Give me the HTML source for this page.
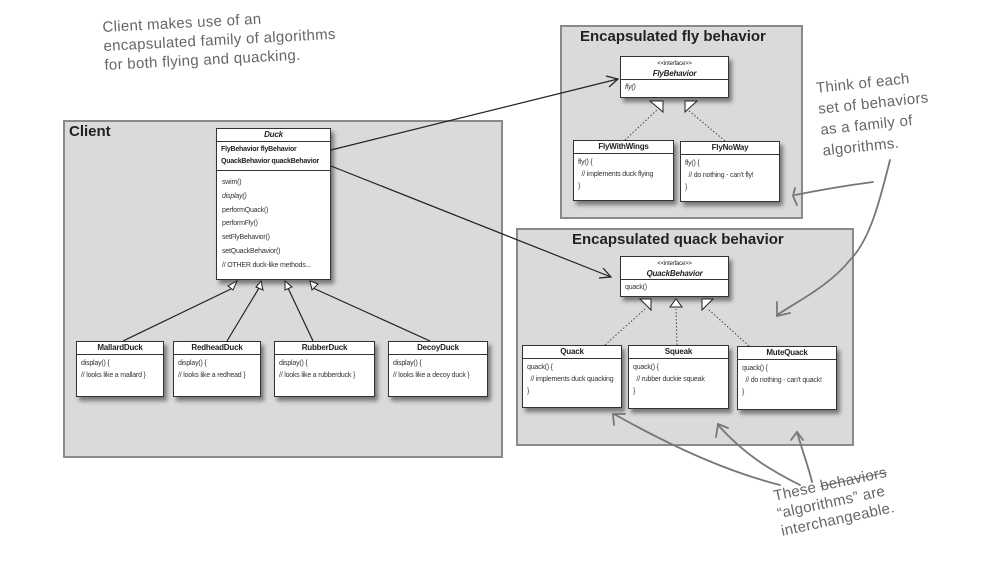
<!DOCTYPE html>
<html><head><style>
body{margin:0;width:995px;height:576px;background:#fff;position:relative;overflow:hidden;font-family:"Liberation Sans",sans-serif}
.grp{position:absolute;background:#d9dadc;border:2px solid #8a8a8a;box-sizing:border-box}
.gt{position:absolute;font-weight:bold;color:#222}
.bx{position:absolute;background:#fff;border:1.5px solid #333;box-sizing:border-box;box-shadow:3px 4px 4px rgba(0,0,0,.45);font-size:7px;color:#333;white-space:nowrap;letter-spacing:-0.2px;overflow:hidden}
.hd{border-bottom:1.2px solid #333;text-align:center;font-weight:bold;font-size:8px;line-height:12px;color:#222}
.bd{padding:3px 4px;line-height:10px}
.hand{position:absolute;color:#666;font-family:"Liberation Sans",sans-serif;font-size:15px;line-height:19px;letter-spacing:.3px}
</style></head><body>
<div class="grp" style="left:63px;top:120px;width:440px;height:338px"></div>
<div class="gt" style="left:69px;top:123px;font-size:15px">Client</div>
<div class="grp" style="left:560px;top:25px;width:243px;height:194px"></div>
<div class="gt" style="left:580px;top:28px;font-size:15px">Encapsulated fly behavior</div>
<div class="grp" style="left:516px;top:228px;width:338px;height:218px"></div>
<div class="gt" style="left:572px;top:231px;font-size:15px">Encapsulated quack behavior</div>

<div class="bx" style="left:216px;top:128px;width:115px;height:152px">
<div class="hd" style="font-style:italic">Duck</div>
<div style="border-bottom:1.2px solid #333;padding:2px 4px;line-height:12px;font-weight:bold;color:#222">FlyBehavior flyBehavior<br>QuackBehavior quackBehavior</div>
<div style="padding:5px 5px;line-height:13.8px">swim()<br><i>display()</i><br>performQuack()<br>performFly()<br>setFlyBehavior()<br>setQuackBehavior()<br>// OTHER duck-like methods...</div>
</div>

<div class="bx" style="left:76px;top:341px;width:88px;height:56px"><div class="hd">MallardDuck</div><div class="bd" style="line-height:12px">display() {<br>// looks like a mallard }</div></div>
<div class="bx" style="left:173px;top:341px;width:88px;height:56px"><div class="hd">RedheadDuck</div><div class="bd" style="line-height:12px">display() {<br>// looks like a redhead }</div></div>
<div class="bx" style="left:274px;top:341px;width:101px;height:56px"><div class="hd">RubberDuck</div><div class="bd" style="line-height:12px">display() {<br>// looks like a rubberduck }</div></div>
<div class="bx" style="left:388px;top:341px;width:100px;height:56px"><div class="hd">DecoyDuck</div><div class="bd" style="line-height:12px">display() {<br>// looks like a decoy duck }</div></div>

<div class="bx" style="left:620px;top:56px;width:109px;height:42px"><div class="hd" style="line-height:9px;padding:1px 0"><span style="font-weight:normal;font-size:6px">&lt;&lt;interface&gt;&gt;</span><br><i>FlyBehavior</i></div><div class="bd"><i>fly()</i></div></div>
<div class="bx" style="left:573px;top:140px;width:101px;height:61px"><div class="hd">FlyWithWings</div><div class="bd" style="line-height:12px">fly() {<br>&nbsp;&nbsp;// implements duck flying<br>}</div></div>
<div class="bx" style="left:680px;top:141px;width:100px;height:61px"><div class="hd">FlyNoWay</div><div class="bd" style="line-height:12px">fly() {<br>&nbsp;&nbsp;// do nothing - can't fly!<br>}</div></div>

<div class="bx" style="left:620px;top:256px;width:109px;height:41px"><div class="hd" style="line-height:9px;padding:1px 0"><span style="font-weight:normal;font-size:6px">&lt;&lt;interface&gt;&gt;</span><br><i>QuackBehavior</i></div><div class="bd">quack()</div></div>
<div class="bx" style="left:522px;top:345px;width:100px;height:63px"><div class="hd">Quack</div><div class="bd" style="line-height:12px">quack() {<br>&nbsp;&nbsp;// implements duck quacking<br>}</div></div>
<div class="bx" style="left:628px;top:345px;width:101px;height:64px"><div class="hd">Squeak</div><div class="bd" style="line-height:12px">quack() {<br>&nbsp;&nbsp;// rubber duckie squeak<br>}</div></div>
<div class="bx" style="left:737px;top:346px;width:100px;height:64px"><div class="hd">MuteQuack</div><div class="bd" style="line-height:12px">quack() {<br>&nbsp;&nbsp;// do nothing - can't quack!<br>}</div></div>

<svg width="995" height="576" style="position:absolute;left:0;top:0" fill="none">
<g stroke="#222" stroke-width="1.2">
<line x1="331" y1="150" x2="618" y2="79"/><polyline points="606,76 618,79 609,87"/>
<line x1="331" y1="166" x2="611" y2="277"/><polyline points="599,278 611,277 603,268"/>
<line x1="123" y1="341" x2="233" y2="288"/><line x1="227" y1="341" x2="259" y2="288"/>
<line x1="313" y1="341" x2="288" y2="288"/><line x1="430" y1="341" x2="313" y2="288"/>
</g>
<g fill="#fff" stroke="#222" stroke-width="1">
<polygon points="237,281 233,290 228,286"/><polygon points="261,281 263,290 256,287"/>
<polygon points="285,281 292,287 285,290"/><polygon points="310,281 318,284 312,290"/>
</g>
<g stroke="#444" stroke-width="1" stroke-dasharray="1.5,2">
<line x1="625" y1="140" x2="657" y2="110"/><line x1="725" y1="141" x2="688" y2="110"/>
<line x1="605" y1="345" x2="645" y2="309"/><line x1="677" y1="345" x2="676" y2="309"/><line x1="749" y1="346" x2="708" y2="309"/>
</g>
<g fill="#fff" stroke="#222" stroke-width="1">
<polygon points="650,101 663,101 663,112"/><polygon points="685,101 697,101 685,112"/>
<polygon points="640,299 651,299 651,310"/><polygon points="670,307 682,307 676,299"/><polygon points="702,299 713,299 702,310"/>
</g>
<g stroke="#777" stroke-width="1.8" stroke-linecap="round">
<path d="M890,160 C880,200 870,240 850,260 C830,285 800,300 777,315"/><polyline points="777,302 777,316 790,313"/>
<path d="M873,182 C850,185 820,190 795,195"/><polyline points="795,188 793,196 797,205"/>
<path d="M780,485 C720,470 660,440 614,414"/><polyline points="614,425 613,414 625,414"/>
<path d="M800,485 C770,470 745,455 718,425"/><polyline points="716,437 718,424 728,428"/>
<path d="M812,482 C808,465 802,450 797,432"/><polyline points="791,440 797,432 803,440"/>
</g>
</svg>

<div class="hand" style="left:102px;top:18px;transform:rotate(-3deg);transform-origin:left top">Client makes use of an<br>encapsulated family of algorithms<br>for both flying and quacking.</div>
<div class="hand" style="left:815px;top:78px;transform:rotate(-6deg);transform-origin:left top;line-height:21px">Think of each<br>set of behaviors<br>as a family of<br>algorithms.</div>
<div class="hand" style="left:772px;top:488px;transform:rotate(-12deg);transform-origin:left top;line-height:18px">These <s>behaviors</s><br>“algorithms” are<br>interchangeable.</div>
</body></html>
